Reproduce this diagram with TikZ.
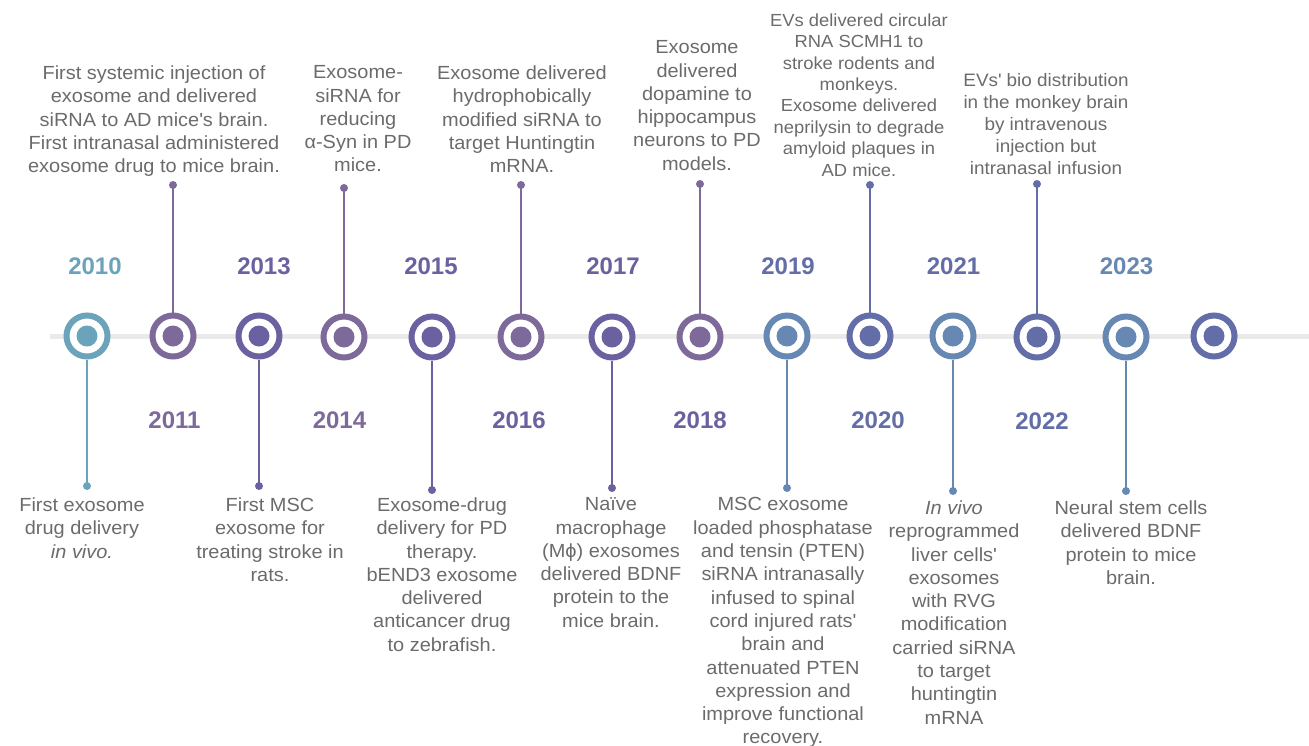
\documentclass[tikz,border=0pt]{standalone}
\usepackage{fontspec}
\setmainfont{Liberation Sans}[FakeStretch=1.05]
\newfontfamily\yearfamily{Liberation Sans}
\usepackage{tikz}
\usepackage{color}
\usetikzlibrary{positioning}
\usetikzlibrary{calc}

\definecolor{tealring}{HTML}{6BA4BA}
\definecolor{mauvering}{HTML}{7E6A9A}
\definecolor{violetring}{HTML}{6A62A0}
\definecolor{steelring}{HTML}{6688B3}
\definecolor{indigoring}{HTML}{636EA8}
\definecolor{trackgray}{HTML}{EAEAEA}
\definecolor{eventgray}{HTML}{6B6B6B}

\newcommand{\mytikztextfontsize}{\fontsize{19}{23.3}\selectfont}
\newcommand{\mytikztightfontsize}{\fontsize{17.5}{21.4}\selectfont}
\newcommand{\mytikzmidfontsize}{\fontsize{18}{22}\selectfont}
\newcommand{\mytikzyearfontsize}{\yearfamily\fontsize{24}{28}\selectfont\bfseries}
\newcommand{\q}{\textquotesingle}
\newcommand{\yearnode}[1][]{\node[inner sep=0pt,font=\mytikzyearfontsize,#1]}
\newcommand{\eventnode}[1][]{\node[inner sep=0pt,align=center,text=eventgray,font=\mytikztextfontsize,#1]}

\tikzstyle{mytimelineoptions}=[
    x=1pt,
    y=-1pt,
    every node/.append style={solid},
    thin
]
\tikzstyle{track}=[
    draw=trackgray,
    line width=5pt
]
\tikzset{milestone/.style={
        circle,
        draw=#1,
        line width=6pt,
        fill=white,
        minimum size=41pt,
        inner sep=0pt,
        path picture={\fill[#1] (path picture bounding box.center) circle (10.5pt);}
    },
    stem/.style={
        draw=#1,
        line width=2pt
    },
    stemdot/.style={
        fill=#1
    }
}

\begin{document}
\begin{tikzpicture}[mytimelineoptions]
    \useasboundingbox (0,0) rectangle (1309,745);

    % track
    \coordinate (trackstart) at (50,336);
    \coordinate (trackend) at (1309,336);
    \draw[track] (trackstart) -- (trackend);

    % stem ends
    \coordinate (s2010) at (87,486);
    \coordinate (s2011) at (173,185);
    \coordinate (s2013) at (259,486);
    \coordinate (s2014) at (344,188);
    \coordinate (s2015) at (432,490);
    \coordinate (s2016) at (521,185);
    \coordinate (s2017) at (612,488);
    \coordinate (s2018) at (700,184);
    \coordinate (s2019) at (787,488);
    \coordinate (s2020) at (870,185);
    \coordinate (s2021) at (953,491);
    \coordinate (s2022) at (1037,184);
    \coordinate (s2023) at (1126,491);

    % milestones
    \node[milestone=tealring]   (c2010) at (87,336)   {};
    \node[milestone=mauvering]  (c2011) at (173,336)  {};
    \node[milestone=violetring] (c2013) at (259,336)  {};
    \node[milestone=mauvering]  (c2014) at (344,337)  {};
    \node[milestone=violetring] (c2015) at (432,337)  {};
    \node[milestone=mauvering]  (c2016) at (521,337)  {};
    \node[milestone=violetring] (c2017) at (612,337)  {};
    \node[milestone=mauvering]  (c2018) at (700,337)  {};
    \node[milestone=steelring]  (c2019) at (787,336)  {};
    \node[milestone=indigoring] (c2020) at (870,336)  {};
    \node[milestone=steelring]  (c2021) at (953,336)  {};
    \node[milestone=indigoring] (c2022) at (1037,337) {};
    \node[milestone=steelring]  (c2023) at (1126,337) {};
    \node[milestone=indigoring] (cend)  at (1214,336) {};

    % stems
    \draw[stem=tealring]   (c2010.south) -- (s2010);
    \draw[stem=mauvering]  (c2011.north) -- (s2011);
    \draw[stem=violetring] (c2013.south) -- (s2013);
    \draw[stem=mauvering]  (c2014.north) -- (s2014);
    \draw[stem=violetring] (c2015.south) -- (s2015);
    \draw[stem=mauvering]  (c2016.north) -- (s2016);
    \draw[stem=violetring] (c2017.south) -- (s2017);
    \draw[stem=mauvering]  (c2018.north) -- (s2018);
    \draw[stem=steelring]  (c2019.south) -- (s2019);
    \draw[stem=indigoring] (c2020.north) -- (s2020);
    \draw[stem=steelring]  (c2021.south) -- (s2021);
    \draw[stem=indigoring] (c2022.north) -- (s2022);
    \draw[stem=steelring]  (c2023.south) -- (s2023);

    \fill[stemdot=tealring]   (s2010) circle (4pt);
    \fill[stemdot=mauvering]  (s2011) circle (4pt);
    \fill[stemdot=violetring] (s2013) circle (4pt);
    \fill[stemdot=mauvering]  (s2014) circle (4pt);
    \fill[stemdot=violetring] (s2015) circle (4pt);
    \fill[stemdot=mauvering]  (s2016) circle (4pt);
    \fill[stemdot=violetring] (s2017) circle (4pt);
    \fill[stemdot=mauvering]  (s2018) circle (4pt);
    \fill[stemdot=steelring]  (s2019) circle (4pt);
    \fill[stemdot=indigoring] (s2020) circle (4pt);
    \fill[stemdot=steelring]  (s2021) circle (4pt);
    \fill[stemdot=indigoring] (s2022) circle (4pt);
    \fill[stemdot=steelring]  (s2023) circle (4pt);

    % years
    \yearnode[text=tealring]   (y2010) at (95,266)    {2010};
    \yearnode[text=mauvering]  (y2011) at (174.5,420) {2011};
    \yearnode[text=violetring] (y2013) at (264,266)   {2013};
    \yearnode[text=mauvering]  (y2014) at (339.5,420) {2014};
    \yearnode[text=violetring] (y2015) at (431,266)   {2015};
    \yearnode[text=violetring] (y2016) at (519,420)   {2016};
    \yearnode[text=violetring] (y2017) at (613,266)   {2017};
    \yearnode[text=violetring] (y2018) at (700,420)   {2018};
    \yearnode[text=indigoring] (y2019) at (788,266)   {2019};
    \yearnode[text=indigoring] (y2020) at (878,420)   {2020};
    \yearnode[text=indigoring] (y2021) at (953.5,266) {2021};
    \yearnode[text=indigoring] (y2022) at (1042,421)  {2022};
    \yearnode[text=steelring]  (y2023) at (1126.5,266) {2023};

    % events above
    \eventnode[anchor=north] (e2011) at (154,65.5) {First systemic injection of\\exosome and delivered\\siRNA to AD mice\q s brain.\\First intranasal administered\\exosome drug to mice brain.};
    \eventnode[anchor=north] (e2014) at (358,65.5) {Exosome-\\siRNA for\\reducing\\α-Syn in PD\\mice.};
    \eventnode[anchor=north] (e2016) at (522,65.5) {Exosome delivered\\hydrophobically\\modified siRNA to\\target Huntingtin\\mRNA.};
    \eventnode[anchor=north] (e2018) at (697,40.5) {Exosome\\delivered\\dopamine to\\hippocampus\\neurons to PD\\models.};
    \eventnode[anchor=north,font=\mytikztightfontsize] (e2020) at (859,13.5) {EVs delivered circular\\RNA SCMH1 to\\stroke rodents and\\monkeys.\\Exosome delivered\\neprilysin to degrade\\amyloid plaques in\\AD mice.};
    \eventnode[anchor=north,font=\mytikzmidfontsize] (e2022) at (1046,73) {EVs\q{} bio distribution\\in the monkey brain\\by intravenous\\injection but\\intranasal infusion};

    % events below
    \eventnode[anchor=north] (e2010) at (82,497.5) {First exosome\\drug delivery\\\textit{in vivo.}};
    \eventnode[anchor=north] (e2013) at (270,497.5) {First MSC\\exosome for\\treating stroke in\\rats.};
    \eventnode[anchor=north] (e2015) at (442,497.5) {Exosome-drug\\delivery for PD\\therapy.\\bEND3 exosome\\delivered\\anticancer drug\\to zebrafish.};
    \eventnode[anchor=north] (e2017) at (611,497.5) {Naïve\\macrophage\\(Mϕ) exosomes\\delivered BDNF\\protein to the\\mice brain.};
    \eventnode[anchor=north] (e2019) at (783,497.5) {MSC exosome\\loaded phosphatase\\and tensin (PTEN)\\siRNA intranasally\\infused to spinal\\cord injured rats\q\\brain and\\attenuated PTEN\\expression and\\improve functional\\recovery.};
    \eventnode[anchor=north] (e2021) at (954,500.5) {\textit{In vivo}\\reprogrammed\\liver cells\q\\exosomes\\with RVG\\modification\\carried siRNA\\to target\\huntingtin\\mRNA};
    \eventnode[anchor=north] (e2023) at (1131,500.5) {Neural stem cells\\delivered BDNF\\protein to mice\\brain.};
\end{tikzpicture}
\end{document}
